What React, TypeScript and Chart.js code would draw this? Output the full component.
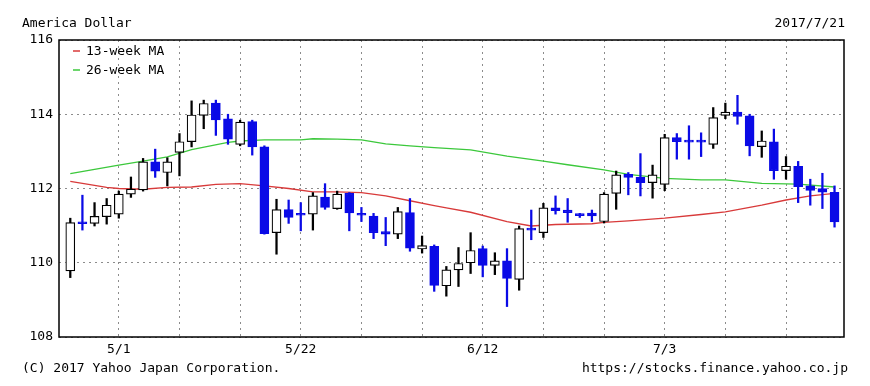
import React, { useEffect, useRef } from 'react';
import { Chart, registerables } from 'chart.js';

Chart.register(...registerables);

const FONT = '"DejaVu Sans Mono", monospace';
const BLUE = '#0a0ae6';
const RED = '#d83a3a';
const GREEN = '#3cc83c';

const title = 'America Dollar';
const dateLabel = '2017/7/21';
const copyright = '(C) 2017 Yahoo Japan Corporation.';
const sourceUrl = 'https://stocks.finance.yahoo.co.jp';

const dates = [
  '4/25', '4/26', '4/27', '4/28',
  '5/1', '5/2', '5/3', '5/4', '5/5',
  '5/8', '5/9', '5/10', '5/11', '5/12',
  '5/15', '5/16', '5/17', '5/18', '5/19',
  '5/22', '5/23', '5/24', '5/25', '5/26',
  '5/29', '5/30', '5/31', '6/1', '6/2',
  '6/5', '6/6', '6/7', '6/8', '6/9',
  '6/12', '6/13', '6/14', '6/15', '6/16',
  '6/19', '6/20', '6/21', '6/22', '6/23',
  '6/26', '6/27', '6/28', '6/29', '6/30',
  '7/3', '7/4', '7/5', '7/6', '7/7',
  '7/10', '7/11', '7/12', '7/13', '7/14',
  '7/17', '7/18', '7/19', '7/20', '7/21',
];

const weekStarts = ['5/1', '5/8', '5/15', '5/22', '5/29', '6/5', '6/12', '6/19', '6/26', '7/3', '7/10', '7/17'];
const tickLabels = ['5/1', '5/22', '6/12', '7/3'];
const yTicks = [108, 110, 112, 114, 116];

const opens = [
  109.78, 111.1, 111.06, 111.24, 111.31, 111.85, 111.96, 112.72, 112.43, 112.97,
  113.26, 113.97, 114.3, 113.88, 113.19, 113.8, 113.12, 110.81, 111.43, 111.3,
  111.31, 111.77, 111.46, 111.87, 111.31, 111.26, 110.84, 110.77, 111.35, 110.37,
  110.44, 109.38, 109.81, 110.0, 110.38, 109.93, 110.05, 109.55, 110.92, 110.81,
  111.48, 111.42, 111.31, 111.34, 111.11, 111.87, 112.38, 112.3, 112.16, 112.11,
  113.37, 113.27, 113.27, 113.19, 113.97, 114.06, 113.96, 113.13, 113.26, 112.48,
  112.6, 112.07, 112.0, 111.9,
];
const highs = [
  111.2, 111.82, 111.62, 111.73, 111.93, 112.31, 112.81, 113.06, 112.83, 113.48,
  114.36, 114.38, 114.38, 114.0, 113.84, 113.84, 113.15, 111.71, 111.69, 111.62,
  111.89, 112.13, 111.93, 111.89, 111.49, 111.33, 111.22, 111.49, 111.73, 110.72,
  110.48, 109.9, 110.41, 110.81, 110.45, 110.27, 110.38, 110.99, 111.42, 111.6,
  111.8, 111.73, 111.33, 111.42, 111.89, 112.47, 112.43, 112.94, 112.63, 113.46,
  113.48, 113.69, 113.5, 114.18, 114.3, 114.51, 114.0, 113.55, 113.6, 112.86,
  112.73, 112.25, 112.41, 112.07,
];
const lows = [
  109.6, 110.88, 110.99, 111.04, 111.2, 111.76, 111.93, 112.3, 112.07, 112.34,
  113.12, 113.61, 113.43, 113.19, 113.15, 112.9, 110.77, 110.23, 111.06, 110.86,
  110.88, 111.44, 111.44, 110.86, 111.11, 110.65, 110.46, 110.65, 110.31, 110.26,
  109.23, 109.1, 109.36, 109.71, 109.62, 109.68, 108.82, 109.26, 110.62, 110.68,
  111.31, 111.09, 111.22, 111.11, 111.07, 111.44, 111.83, 111.8, 111.74, 111.94,
  112.79, 112.79, 112.86, 113.08, 113.88, 113.73, 112.88, 112.84, 112.25, 112.25,
  111.62, 111.55, 111.46, 110.96,
];
const closes = [
  111.08, 111.05, 111.25, 111.55, 111.85, 111.98, 112.72, 112.47, 112.72, 113.26,
  113.98, 114.29, 113.85, 113.33, 113.79, 113.12, 110.78, 111.43, 111.22, 111.28,
  111.8, 111.49, 111.85, 111.34, 111.28, 110.81, 110.77, 111.38, 110.39, 110.46,
  109.39, 109.81, 109.98, 110.33, 109.93, 110.05, 109.58, 110.92, 110.88, 111.48,
  111.4, 111.35, 111.27, 111.26, 111.85, 112.37, 112.3, 112.16, 112.37, 113.37,
  113.26, 113.25, 113.25, 113.91, 114.06, 113.94, 113.15, 113.28, 112.48, 112.6,
  112.05, 111.95, 111.9, 111.1,
];

// 13-week moving average, read at these day indices
const ma13Days = [0, 3, 4, 6, 8, 10, 12, 14, 16, 18, 20, 22, 24, 26, 28, 30, 31, 33, 36, 38, 40, 43, 44, 46, 49, 52, 54, 57, 59, 61, 63];
const ma13 = [112.19, 112.03, 112.0, 111.98, 112.03, 112.04, 112.11, 112.13, 112.07, 112.0, 111.91, 111.91, 111.89, 111.8, 111.67, 111.54, 111.48, 111.36, 111.11, 110.99, 111.03, 111.05, 111.09, 111.13, 111.2, 111.3, 111.37, 111.55, 111.69, 111.8, 111.87];

// 26-week moving average, read at these day indices
const ma26Days = [0, 4, 6, 8, 10, 13, 14, 16, 19, 20, 22, 24, 26, 28, 30, 33, 36, 39, 41, 44, 46, 49, 52, 54, 57, 60, 63];
const ma26 = [112.4, 112.63, 112.74, 112.85, 113.05, 113.24, 113.28, 113.31, 113.31, 113.34, 113.33, 113.31, 113.2, 113.15, 113.1, 113.04, 112.87, 112.74, 112.64, 112.5, 112.38, 112.27, 112.23, 112.23, 112.14, 112.12, 112.04];

export default function App() {
  const ref = useRef<HTMLCanvasElement>(null);

  useEffect(() => {
    const canvas = ref.current;
    if (!canvas) return;
    const up = closes.map((c, i) => c >= opens[i]);
    const bodyFill = up.map((u) => (u ? '#ffffff' : BLUE));
    const edge = up.map((u) => (u ? '#000000' : BLUE));
    const gridDays = weekStarts.map((d) => dates.indexOf(d));

    const framePlugin = {
      id: 'frame',
      afterDatasetsDraw(chart: any) {
        const { ctx, chartArea: a } = chart;
        ctx.save();
        ctx.setLineDash([]);
        ctx.strokeStyle = '#000';
        ctx.lineWidth = 1.5;
        ctx.strokeRect(a.left, a.top, a.right - a.left, a.bottom - a.top);
        ctx.restore();
      },
    };

    const legendPlugin = {
      id: 'maLegend',
      afterDraw(chart: any) {
        const { ctx, chartArea: a } = chart;
        const lines = chart.data.datasets.filter((d: any) => d.type === 'line');
        ctx.save();
        lines.forEach((ds: any, i: number) => {
          const y = a.top + 11 + i * 19;
          ctx.setLineDash([]);
          ctx.strokeStyle = ds.borderColor;
          ctx.lineWidth = 1.5;
          ctx.beginPath();
          ctx.moveTo(a.left + 14, y);
          ctx.lineTo(a.left + 21, y);
          ctx.stroke();
          ctx.fillStyle = '#000';
          ctx.font = `13px ${FONT}`;
          ctx.textBaseline = 'middle';
          ctx.textAlign = 'left';
          ctx.fillText(ds.label, a.left + 27, y + 1);
        });
        ctx.restore();
      },
    };

    const chart = new Chart(canvas, {
      type: 'bar',
      data: {
        datasets: [
          {
            type: 'bar',
            label: 'body',
            data: dates.map((_, i) => ({ x: i, y: [opens[i], closes[i]] })) as any,
            backgroundColor: bodyFill,
            borderColor: edge,
            borderWidth: 1.2,
            borderSkipped: false,
            barThickness: 9,
            minBarLength: 2,
            grouped: false,
            order: 0,
          } as any,
          {
            type: 'bar',
            label: 'wick',
            data: dates.map((_, i) => ({ x: i, y: [lows[i], highs[i]] })) as any,
            backgroundColor: edge,
            borderWidth: 0,
            barThickness: 1.6,
            grouped: false,
            order: 1,
          } as any,
          {
            type: 'line',
            label: '13-week MA',
            data: ma13Days.map((d, i) => ({ x: d, y: ma13[i] })),
            borderColor: RED,
            borderWidth: 1.3,
            pointRadius: 0,
            tension: 0,
            order: 2,
          } as any,
          {
            type: 'line',
            label: '26-week MA',
            data: ma26Days.map((d, i) => ({ x: d, y: ma26[i] })),
            borderColor: GREEN,
            borderWidth: 1.3,
            pointRadius: 0,
            tension: 0,
            order: 3,
          } as any,
        ],
      },
      options: {
        animation: false,
        responsive: false,
        events: [],
        layout: { padding: { top: 40, right: 26, left: 0, bottom: 0 } },
        plugins: { legend: { display: false }, tooltip: { enabled: false } },
        scales: {
          x: {
            type: 'linear',
            min: -0.93,
            max: 63.78,
            offset: false,
            grid: { color: '#8c8c8c', lineWidth: 1, drawTicks: false, offset: false },
            border: { display: false, dash: [2, 4] },
            afterBuildTicks(scale: any) {
              scale.ticks = gridDays.map((v) => ({ value: v }));
            },
            afterFit(scale: any) {
              scale.height = 49;
            },
            ticks: {
              autoSkip: false,
              maxRotation: 0,
              padding: 5,
              color: '#000',
              font: { family: FONT, size: 13 },
              callback: (v: any) => {
                const d = dates[Math.round(Number(v))];
                return tickLabels.includes(d) ? d : '';
              },
            },
          },
          y: {
            type: 'linear',
            min: yTicks[0],
            max: yTicks[yTicks.length - 1],
            grid: { color: '#8c8c8c', lineWidth: 1, drawTicks: false },
            border: { display: false, dash: [2, 4] },
            afterBuildTicks(scale: any) {
              scale.ticks = yTicks.map((v) => ({ value: v }));
            },
            afterFit(scale: any) {
              scale.width = 59;
            },
            ticks: {
              padding: 6,
              color: '#000',
              font: { family: FONT, size: 13 },
            },
          },
        },
      } as any,
      plugins: [framePlugin, legendPlugin],
    });
    return () => chart.destroy();
  }, []);

  const text: React.CSSProperties = {
    position: 'absolute',
    fontFamily: FONT,
    fontSize: 13,
    lineHeight: '13px',
    color: '#000',
    whiteSpace: 'pre',
  };

  return (
    <div style={{ position: 'fixed', left: 0, top: 0, width: 870, height: 386, background: '#fff', overflow: 'hidden' }}>
      <canvas ref={ref} width={870} height={386} style={{ position: 'absolute', left: 0, top: 0, width: 870, height: 386 }} />
      <div style={{ ...text, left: 22, top: 16 }}>{title}</div>
      <div style={{ ...text, right: 25, top: 16 }}>{dateLabel}</div>
      <div style={{ ...text, left: 22, top: 361 }}>{copyright}</div>
      <div style={{ ...text, right: 22, top: 361 }}>{sourceUrl}</div>
    </div>
  );
}
